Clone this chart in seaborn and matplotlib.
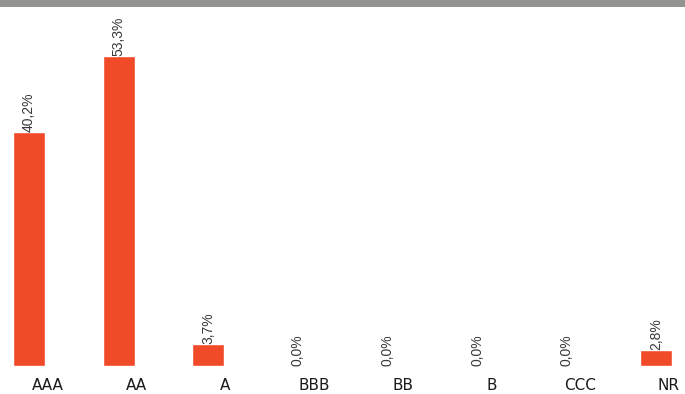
import matplotlib
matplotlib.use("Agg")
import matplotlib.pyplot as plt
import seaborn as sns
import numpy as np
import pandas as pd
from matplotlib.patches import Rectangle

categories = ["AAA", "AA", "A", "BBB", "BB", "B", "CCC", "NR"]
values = [40.2, 53.3, 3.7, 0.0, 0.0, 0.0, 0.0, 2.8]
value_labels = [f"{v:.1f}%".replace(".", ",") for v in values]

sns.set_style("white")
plt.rcParams["font.family"] = ["Liberation Sans", "DejaVu Sans"]

W, H = 685, 394
fig = plt.figure(figsize=(W / 100, H / 100), dpi=100)
fig.patch.set_facecolor("white")

step = 89.6
c0 = 29.0
ax = fig.add_axes([0, (H - 366) / H, 1, (366 - 8) / H])
df = pd.DataFrame({"cat": categories, "val": values})
sns.barplot(data=df, x="cat", y="val", color="#F04A28", saturation=1,
            width=32 / step, ax=ax, errorbar=None)

px_per_unit = 310 / 53.3
ax.set_ylim(0, 358 / px_per_unit)
ax.set_xlim(-c0 / step, (W - c0) / step)

bars = ax.containers[0]
ax.bar_label(bars, labels=value_labels, rotation=90, padding=0,
             fontsize=10, color="#383838")

n = len(categories)
ax.set_xticks(np.arange(n) * 0.99 + 0.21)
ax.set_xticklabels(categories, fontsize=11, color="#1a1a1a",
                   family=["DejaVu Sans"])
ax.tick_params(axis="x", length=0, pad=9)
ax.set_yticks([])
ax.set_xlabel("")
ax.set_ylabel("")
for s in ax.spines.values():
    s.set_visible(False)
ax.set_facecolor("white")

fig.patches.append(Rectangle((0, 1 - 7 / H), 1, 7 / H, transform=fig.transFigure,
                             facecolor="#939491", edgecolor="none", zorder=10))

fig.savefig("out.png", dpi=100)
